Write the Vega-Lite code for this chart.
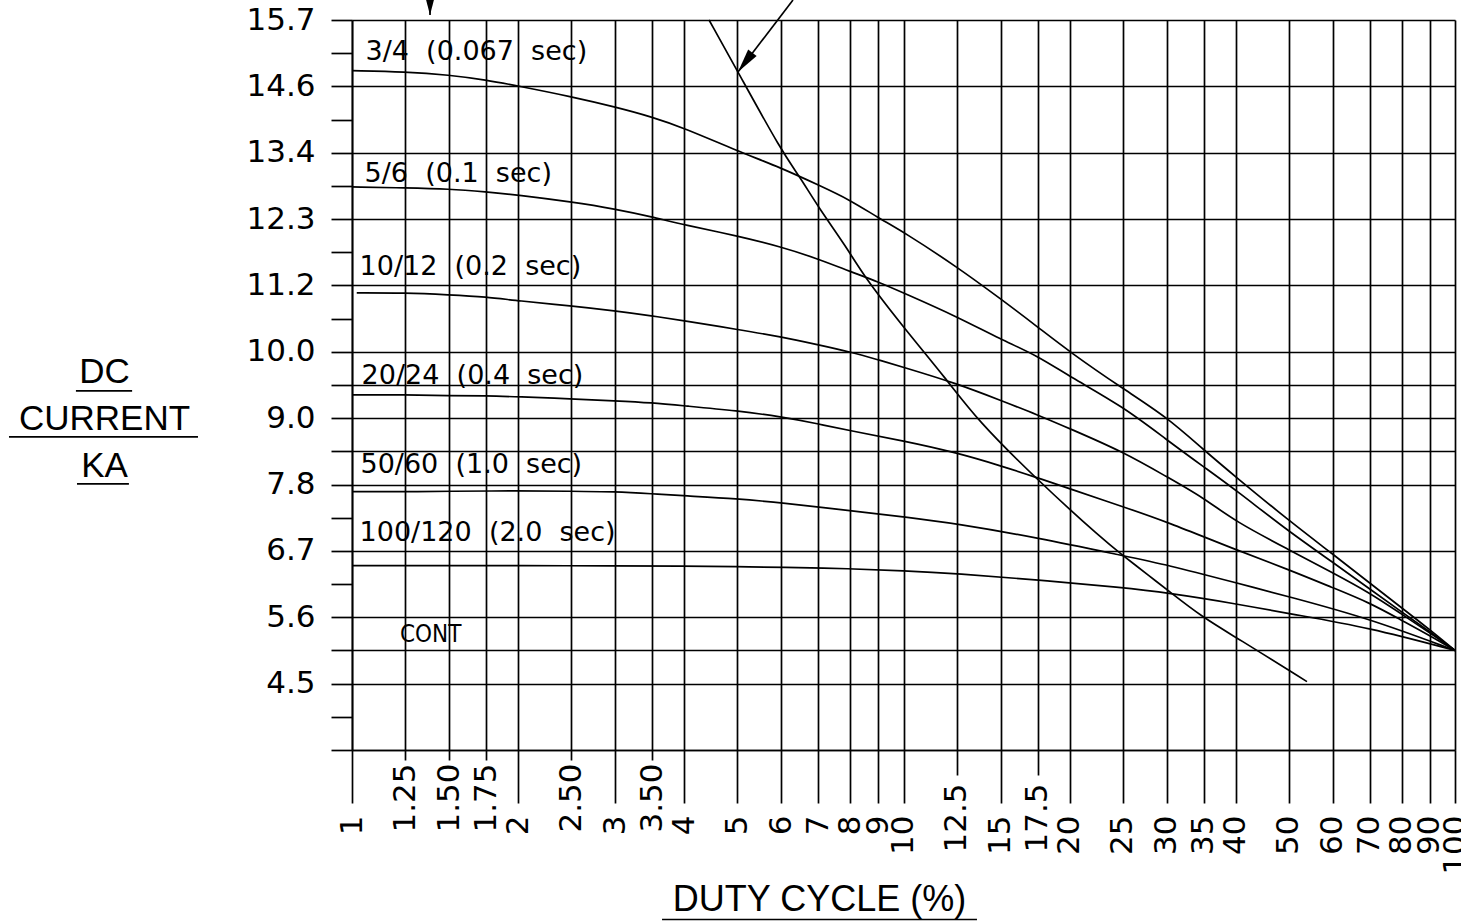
{
  "$schema": "https://vega.github.io/schema/vega-lite/v6.json",
  "width": 1103,
  "height": 730,
  "autosize": {"type": "none"},
  "padding": {"left": 352, "top": 20, "right": 6, "bottom": 171},
  "background": "white",
  "config": {"view": {"stroke": null}},
  "datasets": {
    "curves": [
      {"series": "c1", "x": 1, "y": 14.845}, {"series": "c1", "x": 1.25, "y": 14.828}, {"series": "c1", "x": 1.5, "y": 14.772}, {"series": "c1", "x": 1.75, "y": 14.688}, {"series": "c1", "x": 2, "y": 14.587}, {"series": "c1", "x": 2.5, "y": 14.406}, {"series": "c1", "x": 3, "y": 14.233}, {"series": "c1", "x": 3.5, "y": 14.064}, {"series": "c1", "x": 4, "y": 13.878}, {"series": "c1", "x": 5, "y": 13.49}, {"series": "c1", "x": 6, "y": 13.204}, {"series": "c1", "x": 7, "y": 12.917}, {"series": "c1", "x": 8, "y": 12.664}, {"series": "c1", "x": 9, "y": 12.36}, {"series": "c1", "x": 10, "y": 12.124}, {"series": "c1", "x": 12.5, "y": 11.534}, {"series": "c1", "x": 15, "y": 10.994}, {"series": "c1", "x": 17.5, "y": 10.522}, {"series": "c1", "x": 20, "y": 10.1}, {"series": "c1", "x": 25, "y": 9.476}, {"series": "c1", "x": 30, "y": 9.004}, {"series": "c1", "x": 35, "y": 8.447}, {"series": "c1", "x": 40, "y": 7.992}, {"series": "c1", "x": 50, "y": 7.25}, {"series": "c1", "x": 60, "y": 6.688}, {"series": "c1", "x": 70, "y": 6.2}, {"series": "c1", "x": 80, "y": 5.782}, {"series": "c1", "x": 90, "y": 5.411}, {"series": "c1", "x": 100, "y": 5.06},
      {"series": "c2", "x": 1, "y": 12.883}, {"series": "c2", "x": 1.25, "y": 12.866}, {"series": "c2", "x": 1.5, "y": 12.849}, {"series": "c2", "x": 1.75, "y": 12.799}, {"series": "c2", "x": 2, "y": 12.748}, {"series": "c2", "x": 2.5, "y": 12.63}, {"series": "c2", "x": 3, "y": 12.512}, {"series": "c2", "x": 3.5, "y": 12.377}, {"series": "c2", "x": 4, "y": 12.242}, {"series": "c2", "x": 5, "y": 12.057}, {"series": "c2", "x": 6, "y": 11.871}, {"series": "c2", "x": 7, "y": 11.669}, {"series": "c2", "x": 8, "y": 11.456}, {"series": "c2", "x": 9, "y": 11.281}, {"series": "c2", "x": 10, "y": 11.095}, {"series": "c2", "x": 12.5, "y": 10.695}, {"series": "c2", "x": 15, "y": 10.311}, {"series": "c2", "x": 17.5, "y": 10.033}, {"series": "c2", "x": 20, "y": 9.683}, {"series": "c2", "x": 25, "y": 9.177}, {"series": "c2", "x": 30, "y": 8.616}, {"series": "c2", "x": 35, "y": 8.16}, {"series": "c2", "x": 40, "y": 7.772}, {"series": "c2", "x": 50, "y": 7.064}, {"series": "c2", "x": 60, "y": 6.55}, {"series": "c2", "x": 70, "y": 6.1}, {"series": "c2", "x": 80, "y": 5.71}, {"series": "c2", "x": 90, "y": 5.377}, {"series": "c2", "x": 100, "y": 5.06},
      {"series": "c3", "x": 1.02, "y": 11.095}, {"series": "c3", "x": 1.25, "y": 11.095}, {"series": "c3", "x": 1.5, "y": 11.061}, {"series": "c3", "x": 1.75, "y": 11.027}, {"series": "c3", "x": 2, "y": 10.96}, {"series": "c3", "x": 2.5, "y": 10.876}, {"series": "c3", "x": 3, "y": 10.791}, {"series": "c3", "x": 3.5, "y": 10.707}, {"series": "c3", "x": 4, "y": 10.623}, {"series": "c3", "x": 5, "y": 10.478}, {"series": "c3", "x": 6, "y": 10.353}, {"series": "c3", "x": 7, "y": 10.218}, {"series": "c3", "x": 8, "y": 10.1}, {"series": "c3", "x": 9, "y": 9.965}, {"series": "c3", "x": 10, "y": 9.839}, {"series": "c3", "x": 12.5, "y": 9.564}, {"series": "c3", "x": 15, "y": 9.28}, {"series": "c3", "x": 17.5, "y": 9.037}, {"series": "c3", "x": 20, "y": 8.805}, {"series": "c3", "x": 25, "y": 8.413}, {"series": "c3", "x": 30, "y": 7.992}, {"series": "c3", "x": 35, "y": 7.637}, {"series": "c3", "x": 40, "y": 7.233}, {"series": "c3", "x": 50, "y": 6.76}, {"series": "c3", "x": 60, "y": 6.372}, {"series": "c3", "x": 70, "y": 6.035}, {"series": "c3", "x": 80, "y": 5.674}, {"series": "c3", "x": 90, "y": 5.357}, {"series": "c3", "x": 100, "y": 5.06},
      {"series": "c4", "x": 1, "y": 9.375}, {"series": "c4", "x": 1.25, "y": 9.375}, {"series": "c4", "x": 1.5, "y": 9.358}, {"series": "c4", "x": 1.75, "y": 9.358}, {"series": "c4", "x": 2, "y": 9.341}, {"series": "c4", "x": 2.5, "y": 9.307}, {"series": "c4", "x": 3, "y": 9.273}, {"series": "c4", "x": 3.5, "y": 9.24}, {"series": "c4", "x": 4, "y": 9.189}, {"series": "c4", "x": 5, "y": 9.105}, {"series": "c4", "x": 6, "y": 9.004}, {"series": "c4", "x": 7, "y": 8.886}, {"series": "c4", "x": 8, "y": 8.767}, {"series": "c4", "x": 10, "y": 8.599}, {"series": "c4", "x": 12.5, "y": 8.396}, {"series": "c4", "x": 15, "y": 8.177}, {"series": "c4", "x": 17.5, "y": 7.975}, {"series": "c4", "x": 20, "y": 7.789}, {"series": "c4", "x": 25, "y": 7.486}, {"series": "c4", "x": 30, "y": 7.233}, {"series": "c4", "x": 40, "y": 6.76}, {"series": "c4", "x": 50, "y": 6.423}, {"series": "c4", "x": 60, "y": 6.119}, {"series": "c4", "x": 70, "y": 5.866}, {"series": "c4", "x": 80, "y": 5.569}, {"series": "c4", "x": 90, "y": 5.31}, {"series": "c4", "x": 100, "y": 5.06},
      {"series": "c5", "x": 1, "y": 7.739}, {"series": "c5", "x": 1.25, "y": 7.739}, {"series": "c5", "x": 1.5, "y": 7.747}, {"series": "c5", "x": 2, "y": 7.755}, {"series": "c5", "x": 2.5, "y": 7.747}, {"series": "c5", "x": 3, "y": 7.739}, {"series": "c5", "x": 3.5, "y": 7.705}, {"series": "c5", "x": 4, "y": 7.671}, {"series": "c5", "x": 5, "y": 7.62}, {"series": "c5", "x": 6, "y": 7.553}, {"series": "c5", "x": 8, "y": 7.418}, {"series": "c5", "x": 10, "y": 7.317}, {"series": "c5", "x": 12.5, "y": 7.199}, {"series": "c5", "x": 17.5, "y": 6.962}, {"series": "c5", "x": 25, "y": 6.659}, {"series": "c5", "x": 30, "y": 6.507}, {"series": "c5", "x": 40, "y": 6.204}, {"series": "c5", "x": 50, "y": 5.967}, {"series": "c5", "x": 70, "y": 5.597}, {"series": "c5", "x": 100, "y": 5.06},
      {"series": "c6", "x": 1, "y": 6.49}, {"series": "c6", "x": 1.5, "y": 6.49}, {"series": "c6", "x": 2, "y": 6.49}, {"series": "c6", "x": 3, "y": 6.49}, {"series": "c6", "x": 4, "y": 6.482}, {"series": "c6", "x": 5, "y": 6.473}, {"series": "c6", "x": 6, "y": 6.465}, {"series": "c6", "x": 8, "y": 6.44}, {"series": "c6", "x": 10, "y": 6.406}, {"series": "c6", "x": 12.5, "y": 6.356}, {"series": "c6", "x": 17.5, "y": 6.254}, {"series": "c6", "x": 25, "y": 6.119}, {"series": "c6", "x": 30, "y": 6.035}, {"series": "c6", "x": 40, "y": 5.85}, {"series": "c6", "x": 50, "y": 5.681}, {"series": "c6", "x": 70, "y": 5.445}, {"series": "c6", "x": 100, "y": 5.06},
      {"series": "lim", "x": 4.44, "y": 15.7}, {"series": "lim", "x": 5.01, "y": 14.823}, {"series": "lim", "x": 6.02, "y": 13.474}, {"series": "lim", "x": 6.49, "y": 13.052}, {"series": "lim", "x": 7.0, "y": 12.546}, {"series": "lim", "x": 7.9, "y": 11.854}, {"series": "lim", "x": 8.44, "y": 11.399}, {"series": "lim", "x": 9.98, "y": 10.522}, {"series": "lim", "x": 11.99, "y": 9.628}, {"series": "lim", "x": 13.59, "y": 8.953}, {"series": "lim", "x": 17.47, "y": 7.941}, {"series": "lim", "x": 23.0, "y": 6.929}, {"series": "lim", "x": 24.9, "y": 6.676}, {"series": "lim", "x": 28.0, "y": 6.305}, {"series": "lim", "x": 30.05, "y": 6.086}, {"series": "lim", "x": 34.9, "y": 5.614}, {"series": "lim", "x": 40.2, "y": 5.276}, {"series": "lim", "x": 53.9, "y": 4.534}
    ],
    "labels": [
      {"label": "3/4 \u00a0(0.067 \u00a0sec)", "x": 1.058, "y": 15.025},
      {"label": "5/6 \u00a0(0.1 \u00a0sec)", "x": 1.054, "y": 12.967},
      {"label": "10/12 \u00a0(0.2 \u00a0sec)", "x": 1.032, "y": 11.399},
      {"label": "20/24 \u00a0(0.4 \u00a0sec)", "x": 1.041, "y": 9.56},
      {"label": "50/60 \u00a0(1.0 \u00a0sec)", "x": 1.036, "y": 8.059},
      {"label": "100/120 \u00a0(2.0 \u00a0sec)", "x": 1.032, "y": 6.912}
    ],
    "cont": [{"label": "CONT", "x": 1.222, "y": 5.208}],
    "segments": [
      {"x": 1.385, "y": 15.784, "x2": 1.385, "y2": 16.3},
      {"x": 5.01, "y": 14.823, "x2": 6.304, "y2": 16.037},
      {"x": 0.3158, "y": 9.442, "x2": 0.3993, "y2": 9.442},
      {"x": 0.2388, "y": 8.666, "x2": 0.5257, "y2": 8.666},
      {"x": 0.3172, "y": 7.873, "x2": 0.394, "y2": 7.873},
      {"x": 3.649, "y": 0.519, "x2": 13.59, "y2": 0.519}
    ],
    "heads": [
      {"id": "a1", "x": 1.385, "y": 15.784},
      {"id": "a2", "x": 5.01, "y": 14.823}
    ]
  },
  "encoding": {
    "x": {
      "field": "x",
      "type": "quantitative",
      "scale": {"type": "log", "domain": [1, 100], "nice": false},
      "axis": {
        "values": [1, 1.25, 1.5, 1.75, 2, 2.5, 3, 3.5, 4, 5, 6, 7, 8, 9, 10, 12.5, 15, 17.5, 20, 25, 30, 35, 40, 50, 60, 70, 80, 90, 100],
        "title": "DUTY CYCLE (%)",
        "titleFont": "Liberation Sans",
        "titleFontSize": 36,
        "titleFontWeight": "normal",
        "titleColor": "black",
        "titleX": 467,
        "titleY": 160,
        "titleAlign": "center",
        "titleBaseline": "alphabetic",
        "labelAngle": -90,
        "labelFont": "DejaVu Sans",
        "labelFontSize": 31,
        "labelColor": "black",
        "labelExpr": "datum.value == 1.5 ? '1.50' : datum.value == 2.5 ? '2.50' : datum.value == 3.5 ? '3.50' : format(datum.value, '~g')",
        "labelOverlap": false,
        "labelBound": false,
        "labelFlush": false,
        "tickSize": {"condition": [{"test": "indexof([1.25,1.5,1.75,2.5,3.5], datum.value) >= 0", "value": 10}, {"test": "indexof([12.5,17.5], datum.value) >= 0", "value": 25}], "value": 53},
        "labelPadding": {"condition": [{"test": "indexof([1.25,1.5,1.75,2.5,3.5], datum.value) >= 0", "value": 3}, {"test": "indexof([12.5,17.5], datum.value) >= 0", "value": 8}], "value": 12},
        "tickColor": "black",
        "tickWidth": 1.7,
        "domain": true,
        "domainColor": "black",
        "domainWidth": 1.7,
        "grid": true,
        "gridColor": "black",
        "gridWidth": 1.7,
        "gridOpacity": 1
      }
    },
    "y": {
      "field": "y",
      "type": "quantitative",
      "scale": {"domain": [3.38, 15.7], "nice": false, "zero": false},
      "axis": {
        "values": [3.38, 3.94, 4.5, 5.06, 5.62, 6.18, 6.74, 7.3, 7.86, 8.42, 8.98, 9.54, 10.1, 10.66, 11.22, 11.78, 12.34, 12.9, 13.46, 14.02, 14.58, 15.14, 15.7],
        "title": ["DC", "CURRENT", "KA"],
        "titleAngle": 0,
        "titleAlign": "center",
        "titleBaseline": "alphabetic",
        "titleX": -248,
        "titleY": 362,
        "titleLineHeight": 47,
        "titleFont": "Liberation Sans",
        "titleFontSize": 35,
        "titleFontWeight": "normal",
        "titleColor": "black",
        "labelExpr": "['','','4.5','','5.6','','6.7','','7.8','','9.0','','10.0','','11.2','','12.3','','13.4','','14.6','','15.7'][round((datum.value-3.38)/0.56)]",
        "labelFont": "DejaVu Sans",
        "labelFontSize": 31,
        "labelColor": "black",
        "labelPadding": 16,
        "labelOverlap": false,
        "labelBound": false,
        "labelFlush": false,
        "tickSize": 21,
        "tickColor": "black",
        "tickWidth": 1.7,
        "domain": true,
        "domainColor": "black",
        "domainWidth": 1.7,
        "grid": true,
        "gridColor": "black",
        "gridWidth": 1.7,
        "gridOpacity": {"condition": {"test": "indexof([0,2,3,4,6,8,9,10,11,12,14,16,18,20,22], round((datum.value-3.38)/0.56)) >= 0", "value": 1}, "value": 0}
      }
    }
  },
  "layer": [
    {
      "data": {"name": "curves"},
      "mark": {"type": "line", "color": "black", "strokeWidth": 1.7, "interpolate": "basis", "clip": false},
      "encoding": {"detail": {"field": "series", "type": "nominal"}}
    },
    {
      "data": {"name": "labels"},
      "mark": {"type": "text", "align": "left", "baseline": "alphabetic", "font": "DejaVu Sans", "fontSize": 27, "color": "black", "clip": false},
      "encoding": {"text": {"field": "label", "type": "nominal"}}
    },
    {
      "data": {"name": "cont"},
      "mark": {"type": "text", "align": "left", "baseline": "alphabetic", "font": "'DejaVu Sans Condensed', 'Liberation Sans Narrow', 'DejaVu Sans'", "fontSize": 24, "color": "black", "clip": false},
      "encoding": {"text": {"field": "label", "type": "nominal"}}
    },
    {
      "data": {"name": "segments"},
      "mark": {"type": "rule", "color": "black", "strokeWidth": 1.7, "clip": false},
      "encoding": {"x2": {"field": "x2"}, "y2": {"field": "y2"}}
    },
    {
      "data": {"name": "heads"},
      "transform": [{"filter": "datum.id === 'a1'"}],
      "mark": {"type": "point", "shape": "M0,0L-0.26,-1L0.26,-1Z", "filled": true, "color": "black", "opacity": 1, "size": 2304, "angle": 0, "strokeWidth": 0, "clip": false}
    },
    {
      "data": {"name": "heads"},
      "transform": [{"filter": "datum.id === 'a2'"}],
      "mark": {"type": "point", "shape": "M0,0L-0.22,-1L0.22,-1Z", "filled": true, "color": "black", "opacity": 1, "size": 2304, "angle": 37, "strokeWidth": 0, "clip": false}
    }
  ]
}
